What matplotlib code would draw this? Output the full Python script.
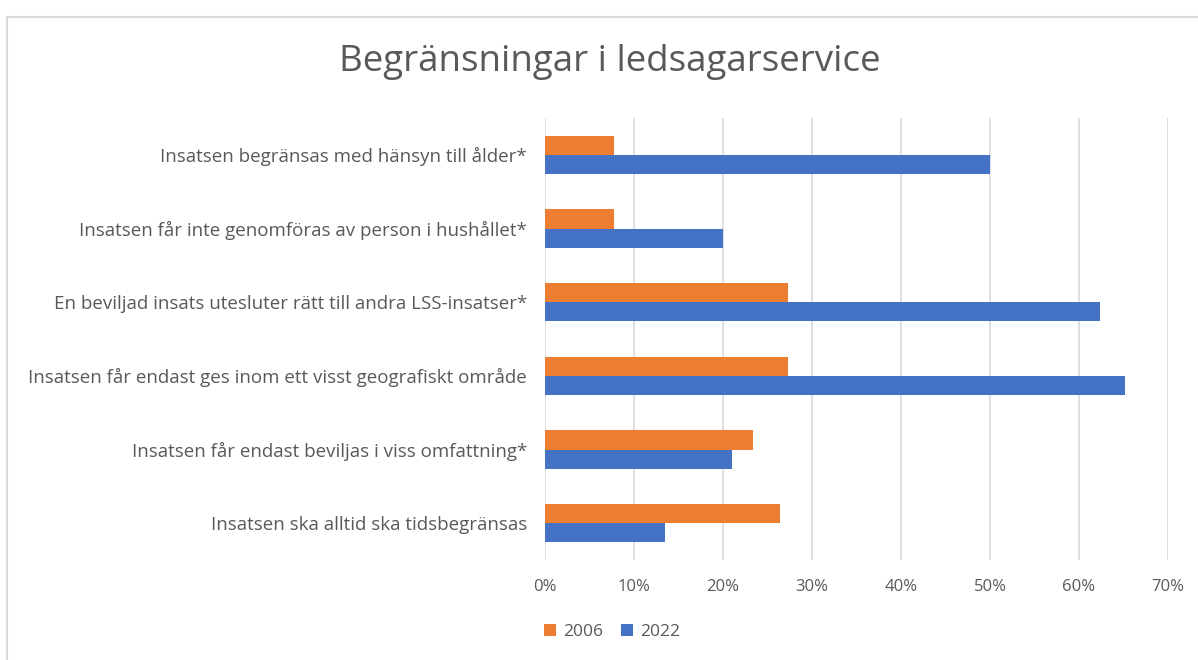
import matplotlib
matplotlib.use("Agg")
import matplotlib.pyplot as plt
import numpy as np
from matplotlib.patches import Rectangle
from matplotlib.ticker import PercentFormatter

categories = [
    "Insatsen begränsas med hänsyn till ålder*",
    "Insatsen får inte genomföras av person i hushållet*",
    "En beviljad insats utesluter rätt till andra LSS-insatser*",
    "Insatsen får endast ges inom ett visst geografiskt område",
    "Insatsen får endast beviljas i viss omfattning*",
    "Insatsen ska alltid ska tidsbegränsas",
]
v2006 = [7.8, 7.8, 27.3, 27.3, 23.4, 26.4]
v2022 = [50.0, 20.0, 62.4, 65.2, 21.0, 13.5]
ticks = [0, 10, 20, 30, 40, 50, 60, 70]

plt.rcParams['font.family'] = ['Open Sans', 'DejaVu Sans']
txt = '#595959'

W, H = 1198, 660
fig = plt.figure(figsize=(W/100, H/100), dpi=100)
fig.patches.append(Rectangle((7/W, -0.2), 1.2, 1.2 - 17/H, transform=fig.transFigure,
                             fill=False, edgecolor='#d9d9d9', linewidth=1.5))

ax = fig.add_axes([545/W, 1 - 560/H, (1168-545)/W, (560-118)/H])
y = np.arange(len(categories))
h = 0.26
ax.barh(y - h/2, v2006, height=h, color='#ED7D31', label='2006')
ax.barh(y + h/2, v2022, height=h, color='#4472C4', label='2022')
ax.set_ylim(len(categories) - 0.5, -0.5)
ax.set_xlim(0, 70)
ax.set_xticks(ticks)
ax.xaxis.set_major_formatter(PercentFormatter(decimals=0))
ax.set_yticks(y)
ax.set_yticklabels(categories)
ax.tick_params(axis='both', length=0, colors=txt)
ax.tick_params(axis='x', pad=14, labelsize=12)
ax.tick_params(axis='y', pad=13, labelsize=13.5)
for s in ax.spines.values():
    s.set_visible(False)
ax.grid(axis='x', color='#d9d9d9', linewidth=1.2)
ax.set_axisbelow(True)

fig.text(610/W, 1 - 62/H, "Begränsningar i ledsagarservice", ha='center', va='center',
         fontsize=26.5, color=txt)
fig.legend(loc='center', bbox_to_anchor=(612/W, 1 - 632/H), ncol=2, frameon=False,
           fontsize=12.5, labelcolor=txt, handlelength=0.7, handleheight=0.7,
           columnspacing=1.0, handletextpad=0.4)

fig.savefig("out.png", dpi=100)
